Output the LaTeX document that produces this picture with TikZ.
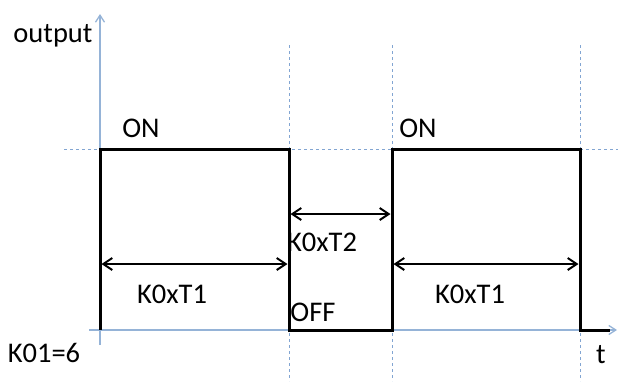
\documentclass[tikz,border=0pt]{standalone}
\usepackage{fontspec}
\setmainfont{Carlito}
\usetikzlibrary{arrows.meta}
\definecolor{axisblue}{RGB}{149,179,215}
\definecolor{guideblue}{RGB}{130,165,210}
\tikzset{
  axisline/.style={draw=axisblue, line width=1.3pt, -{Straight Barb[length=7pt,width=9pt]}},
  guide/.style={draw=guideblue, line width=0.9pt, dash pattern=on 3pt off 3pt},
  signal/.style={draw=black, line width=3pt, line join=miter, line cap=butt},
  span/.style={draw=black, line width=2pt, {Straight Barb[length=9pt,width=12pt]}-{Straight Barb[length=9pt,width=12pt]}},
  lbl/.style={font=\fontsize{28.5}{32}\selectfont, inner sep=0pt, text=black}
}
\begin{document}
\begin{tikzpicture}[x=1pt,y=-1pt]
\useasboundingbox (0,0) rectangle (618,381);
% guides
\coordinate (gl) at (64,149);
\coordinate (gr) at (618,149);
\draw[guide] (gl) -- (gr);
\foreach \gx in {289,392,580}{
  \draw[guide] (\gx,45) -- (\gx,381);
}
% axes
\coordinate (yb) at (100,345);
\coordinate (yt) at (100,14);
\coordinate (xl) at (89,330);
\coordinate (xr) at (617,330);
\draw[axisline] (yb) -- (yt);
\draw[axisline] (xl) -- (xr);
% signal
\coordinate (s0) at (100,330);
\coordinate (s1) at (100,149);
\coordinate (s2) at (289,149);
\coordinate (s3) at (289,330);
\coordinate (s4) at (392,330);
\coordinate (s5) at (392,149);
\coordinate (s6) at (580,149);
\coordinate (s7) at (580,330);
\coordinate (s8) at (610,330);
\draw[signal] (s0) -- (s1) -- (s2) -- (s3) -- (s4) -- (s5) -- (s6) -- (s7) -- (s8);
% spans
\coordinate (a1l) at (101.5,264);
\coordinate (a1r) at (287.5,264);
\coordinate (a2l) at (290.5,214);
\coordinate (a2r) at (390.5,214);
\coordinate (a3l) at (393.5,264);
\coordinate (a3r) at (578.5,264);
\draw[span] (a1l) -- (a1r);
\draw[span] (a2l) -- (a2r);
\draw[span] (a3l) -- (a3r);
% labels
\node[lbl] (output) at (53,36) {output};
\node[lbl] (on1) at (141,128) {ON};
\node[lbl] (on2) at (418,128) {ON};
\node[lbl] (k1) at (172,294) {K0xT1};
\node[lbl] (k2) at (322,242) {K0xT2};
\node[lbl] (off) at (313,312) {OFF};
\node[lbl] (k3) at (470,294) {K0xT1};
\node[lbl] (k01) at (44,353) {K01=6};
\node[lbl] (t) at (601,355) {t};
\end{tikzpicture}
\end{document}
